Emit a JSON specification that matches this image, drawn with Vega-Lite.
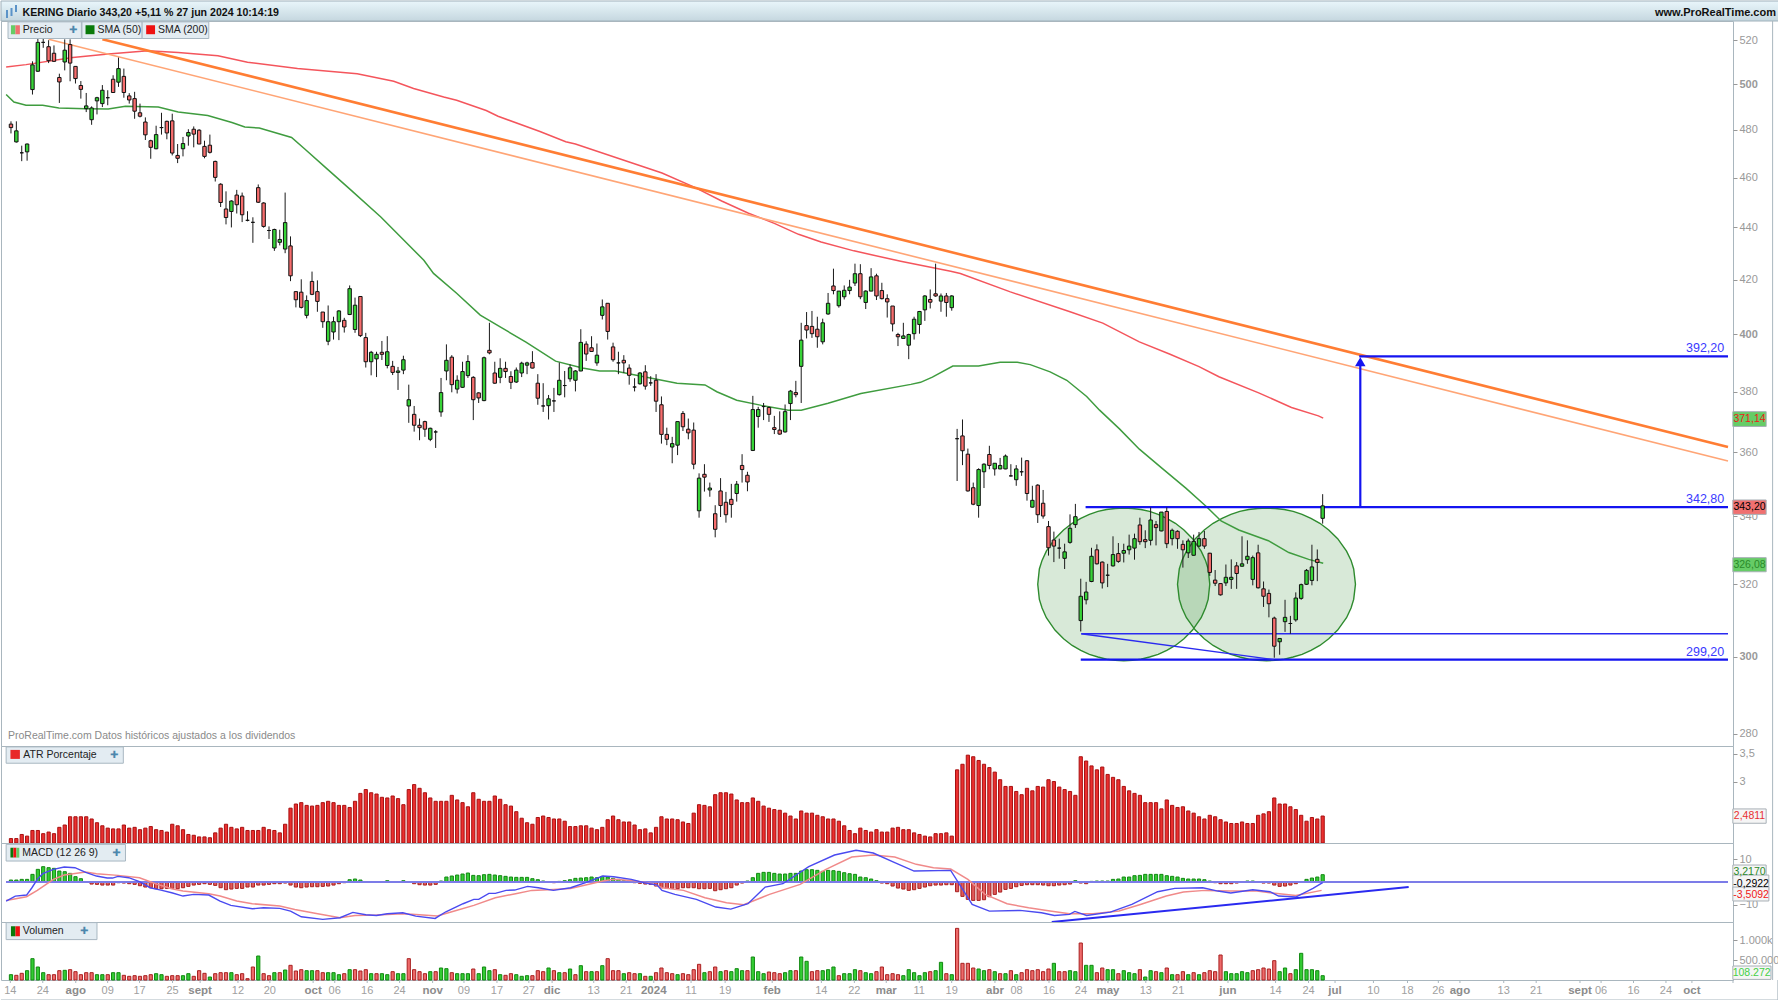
{"$schema":"https://vega.github.io/schema/vega-lite/v6.json","padding":0,"autosize":"pad","background":"white","spacing":0,"bounds":"flush",
"config":{"view":{"stroke":"#a9b6be","strokeWidth":1},"font":"Liberation Sans","text":{"font":"Liberation Sans"},"axis":{"labelFont":"Liberation Sans","labelFontSize":11,"labelColor":"#999999","tickColor":"#999999","tickSize":4,"labelPadding":2,"grid":false,"domain":false,"title":null}},
"datasets":{
"candles":[
{"i":0,"o":482.5,"c":481,"h":483.7,"l":478.5,"a":2.19,"v":133,"m":0.88},
{"i":1,"o":474.9,"c":479.6,"h":483.7,"l":474.6,"a":2.19,"v":117,"m":0.88},
{"i":2,"o":470.3,"c":470.3,"h":473.3,"l":466.8,"a":2.24,"v":167,"m":1.17},
{"i":3,"o":470.7,"c":474,"h":474.2,"l":467,"a":2.22,"v":233,"m":1.17},
{"i":4,"o":497.6,"c":508.7,"h":510.3,"l":495.4,"a":2.29,"v":533,"m":3.36},
{"i":5,"o":505.8,"c":519,"h":520.7,"l":505.5,"a":2.29,"v":325,"m":5.56},
{"i":6,"o":519,"c":519,"h":520.7,"l":516.5,"a":2.25,"v":183,"m":6.73},
{"i":7,"o":517,"c":510.6,"h":520,"l":509.5,"a":2.27,"v":133,"m":6.29},
{"i":8,"o":514,"c":510.3,"h":517.6,"l":510,"a":2.25,"v":133,"m":6},
{"i":9,"o":503,"c":501,"h":504.7,"l":491.7,"a":2.33,"v":233,"m":4.82},
{"i":10,"o":510,"c":515.4,"h":520.4,"l":506.2,"a":2.36,"v":242,"m":4.53},
{"i":11,"o":518,"c":509.5,"h":520.4,"l":501.3,"a":2.47,"v":258,"m":3.8},
{"i":12,"o":508,"c":502.5,"h":508,"l":500.3,"a":2.47,"v":208,"m":2.34},
{"i":13,"o":499.4,"c":497.7,"h":501.4,"l":493.6,"a":2.47,"v":133,"m":1.46},
{"i":14,"o":489.2,"c":490.4,"h":496.1,"l":487.7,"a":2.47,"v":183,"m":0.15},
{"i":15,"o":484.4,"c":489.5,"h":490.2,"l":482.2,"a":2.44,"v":183,"m":-0.88},
{"i":16,"o":492.6,"c":494,"h":494.4,"l":486.7,"a":2.39,"v":133,"m":-1.02},
{"i":17,"o":491.4,"c":497.3,"h":499.6,"l":489.9,"a":2.35,"v":133,"m":-1.32},
{"i":18,"o":494,"c":494,"h":497.3,"l":490.7,"a":2.32,"v":133,"m":-1.32},
{"i":19,"o":502.2,"c":496.3,"h":504,"l":496.2,"a":2.31,"v":183,"m":-1.32},
{"i":20,"o":500.9,"c":507,"h":512,"l":498.8,"a":2.31,"v":183,"m":-0.29},
{"i":21,"o":503.5,"c":496.3,"h":507,"l":494,"a":2.36,"v":117,"m":-0.44},
{"i":22,"o":494.8,"c":493,"h":496,"l":491.4,"a":2.32,"v":92,"m":-0.73},
{"i":23,"o":493.6,"c":488.1,"h":496.6,"l":484.8,"a":2.33,"v":108,"m":-1.02},
{"i":24,"o":487.4,"c":485.9,"h":491.4,"l":485.4,"a":2.3,"v":92,"m":-1.61},
{"i":25,"o":483.4,"c":477.9,"h":485.4,"l":475.7,"a":2.32,"v":108,"m":-2.19},
{"i":26,"o":475.4,"c":472.6,"h":475.8,"l":467.8,"a":2.34,"v":133,"m":-2.49},
{"i":27,"o":472,"c":478,"h":481.8,"l":471.8,"a":2.3,"v":158,"m":-2.92},
{"i":28,"o":481,"c":481,"h":487.4,"l":478,"a":2.29,"v":133,"m":-2.92},
{"i":29,"o":483.7,"c":478.7,"h":484,"l":476,"a":2.27,"v":92,"m":-2.78},
{"i":30,"o":483.9,"c":470.2,"h":487,"l":469.2,"a":2.37,"v":108,"m":-2.78},
{"i":31,"o":469.2,"c":468,"h":474,"l":466,"a":2.35,"v":108,"m":-2.92},
{"i":32,"o":472,"c":474.2,"h":477,"l":468.8,"a":2.3,"v":108,"m":-2.49},
{"i":33,"o":477.4,"c":478.9,"h":480.3,"l":473.3,"a":2.24,"v":158,"m":-1.9},
{"i":34,"o":480.3,"c":478.2,"h":481.5,"l":472.6,"a":2.23,"v":92,"m":-1.32},
{"i":35,"o":479.9,"c":474,"h":480.3,"l":474,"a":2.21,"v":233,"m":-1.02},
{"i":36,"o":473,"c":468.8,"h":475.4,"l":468,"a":2.21,"v":167,"m":-0.73},
{"i":37,"o":473.5,"c":470.5,"h":478,"l":470,"a":2.2,"v":75,"m":-1.02},
{"i":38,"o":466.7,"c":460.1,"h":467,"l":458.4,"a":2.26,"v":158,"m":-1.46},
{"i":39,"o":457.3,"c":449.9,"h":457.7,"l":448.1,"a":2.32,"v":183,"m":-2.49},
{"i":40,"o":447.3,"c":443.9,"h":454.4,"l":441.2,"a":2.37,"v":183,"m":-3.36},
{"i":41,"o":446.3,"c":450.5,"h":450.8,"l":440,"a":2.33,"v":183,"m":-3.07},
{"i":42,"o":452.9,"c":449,"h":455,"l":445.5,"a":2.31,"v":133,"m":-2.78},
{"i":43,"o":452.5,"c":445,"h":453.9,"l":442.1,"a":2.33,"v":158,"m":-2.78},
{"i":44,"o":442.8,"c":442.8,"h":446.4,"l":442.4,"a":2.29,"v":33,"m":-2.19},
{"i":45,"o":442,"c":442,"h":444,"l":434,"a":2.29,"v":325,"m":-2.19},
{"i":46,"o":455.9,"c":450,"h":457.2,"l":449.7,"a":2.29,"v":600,"m":-1.32},
{"i":47,"o":449.7,"c":440.4,"h":450,"l":439.9,"a":2.33,"v":158,"m":-1.32},
{"i":48,"o":438.8,"c":438.8,"h":440.4,"l":435.5,"a":2.3,"v":108,"m":-1.02},
{"i":49,"o":432,"c":439.2,"h":439.5,"l":430.9,"a":2.29,"v":183,"m":-0.73},
{"i":50,"o":434.2,"c":435.3,"h":439.1,"l":433,"a":2.26,"v":183,"m":-0.73},
{"i":51,"o":431.6,"c":441.9,"h":453.9,"l":430,"a":2.37,"v":250,"m":-0.44},
{"i":52,"o":432.8,"c":421.4,"h":436.5,"l":419.4,"a":2.59,"v":367,"m":-1.32},
{"i":53,"o":415.5,"c":412.5,"h":415.5,"l":409.7,"a":2.65,"v":225,"m":-2.19},
{"i":54,"o":415.3,"c":409.7,"h":420.1,"l":409.3,"a":2.67,"v":258,"m":-2.49},
{"i":55,"o":406.8,"c":412.2,"h":414.1,"l":405.7,"a":2.63,"v":233,"m":-2.19},
{"i":56,"o":419.3,"c":414.5,"h":423,"l":414.2,"a":2.62,"v":233,"m":-2.05},
{"i":57,"o":415.5,"c":411.9,"h":419.7,"l":408.1,"a":2.63,"v":233,"m":-2.05},
{"i":58,"o":408,"c":404.5,"h":408,"l":402.3,"a":2.67,"v":183,"m":-1.9},
{"i":59,"o":397.5,"c":404.5,"h":410.4,"l":396.1,"a":2.69,"v":183,"m":-1.75},
{"i":60,"o":400.8,"c":404.5,"h":406.3,"l":398.1,"a":2.67,"v":183,"m":-1.32},
{"i":61,"o":404.5,"c":408.4,"h":408.7,"l":397.9,"a":2.63,"v":133,"m":-0.73},
{"i":62,"o":405,"c":402.6,"h":405.9,"l":400.6,"a":2.63,"v":158,"m":-0.29},
{"i":63,"o":407.1,"c":416.6,"h":417.8,"l":406.9,"a":2.6,"v":258,"m":1.02},
{"i":64,"o":401.7,"c":410.5,"h":413.3,"l":400.5,"a":2.69,"v":258,"m":1.32},
{"i":65,"o":413.7,"c":399.5,"h":413.8,"l":399,"a":2.81,"v":225,"m":0.88},
{"i":66,"o":398.8,"c":390.3,"h":400.5,"l":388.3,"a":2.87,"v":258,"m":0.15},
{"i":67,"o":390.3,"c":393.6,"h":394.1,"l":385.6,"a":2.82,"v":158,"m":0},
{"i":68,"o":391.3,"c":392.9,"h":393.8,"l":385,"a":2.8,"v":158,"m":0},
{"i":69,"o":393.6,"c":392.9,"h":397.6,"l":390.9,"a":2.75,"v":158,"m":0},
{"i":70,"o":389,"c":393.8,"h":399.3,"l":388,"a":2.74,"v":133,"m":0.58},
{"i":71,"o":388.7,"c":386.6,"h":390.6,"l":385.7,"a":2.77,"v":208,"m":0},
{"i":72,"o":386.6,"c":387.1,"h":388.5,"l":380.6,"a":2.73,"v":158,"m":0},
{"i":73,"o":387.4,"c":391,"h":392.4,"l":386,"a":2.64,"v":158,"m":0.58},
{"i":74,"o":375.2,"c":377.3,"h":382.4,"l":369.6,"a":2.87,"v":533,"m":0},
{"i":75,"o":372.4,"c":368.8,"h":375.2,"l":366.7,"a":2.95,"v":258,"m":-0.73},
{"i":76,"o":368.8,"c":368,"h":371,"l":363.9,"a":2.89,"v":208,"m":-1.17},
{"i":77,"o":370,"c":367.5,"h":370.3,"l":365,"a":2.82,"v":158,"m":-1.32},
{"i":78,"o":364.2,"c":367.8,"h":368,"l":363.6,"a":2.74,"v":208,"m":-1.32},
{"i":79,"o":366.6,"c":366.6,"h":367.2,"l":361.4,"a":2.69,"v":208,"m":-1.02},
{"i":80,"o":373.2,"c":379.7,"h":384.7,"l":371.6,"a":2.69,"v":300,"m":0.44},
{"i":81,"o":387.1,"c":390.8,"h":396.4,"l":383.9,"a":2.69,"v":283,"m":2.19},
{"i":82,"o":391.9,"c":382.4,"h":392.6,"l":379.8,"a":2.78,"v":183,"m":2.63},
{"i":83,"o":380.9,"c":383.9,"h":385.6,"l":379.4,"a":2.71,"v":158,"m":3.07},
{"i":84,"o":381.5,"c":386.9,"h":390.3,"l":381.3,"a":2.67,"v":158,"m":3.51},
{"i":85,"o":385.5,"c":390.4,"h":392.6,"l":384.7,"a":2.61,"v":158,"m":3.95},
{"i":86,"o":384.9,"c":377.3,"h":385.3,"l":370.5,"a":2.82,"v":275,"m":2.92},
{"i":87,"o":379.6,"c":377.9,"h":379.8,"l":376.2,"a":2.72,"v":158,"m":2.78},
{"i":88,"o":377,"c":391.7,"h":392.1,"l":376.8,"a":2.69,"v":325,"m":3.22},
{"i":89,"o":394.3,"c":393.4,"h":404.1,"l":392.9,"a":2.69,"v":233,"m":3.36},
{"i":90,"o":386.4,"c":382.9,"h":390.3,"l":382.7,"a":2.77,"v":258,"m":3.07},
{"i":91,"o":384.9,"c":388,"h":391.5,"l":382.9,"a":2.72,"v":133,"m":2.78},
{"i":92,"o":388,"c":386.9,"h":390.3,"l":384.7,"a":2.64,"v":117,"m":2.49},
{"i":93,"o":385.2,"c":383.2,"h":387,"l":380.9,"a":2.62,"v":158,"m":2.19},
{"i":94,"o":383.3,"c":387.4,"h":388.3,"l":383,"a":2.54,"v":133,"m":2.05},
{"i":95,"o":386.4,"c":389.8,"h":390.3,"l":385,"a":2.45,"v":92,"m":2.05},
{"i":96,"o":389.1,"c":389.9,"h":390.3,"l":386,"a":2.39,"v":108,"m":2.05},
{"i":97,"o":390,"c":388.1,"h":394,"l":388,"a":2.37,"v":108,"m":1.46},
{"i":98,"o":382.9,"c":377.8,"h":386,"l":375.6,"a":2.46,"v":233,"m":1.02},
{"i":99,"o":375.2,"c":375.2,"h":382.9,"l":373.2,"a":2.48,"v":208,"m":0.44},
{"i":100,"o":375.3,"c":377.6,"h":378.9,"l":370.7,"a":2.46,"v":300,"m":0},
{"i":101,"o":376.9,"c":376.9,"h":381.3,"l":373.2,"a":2.44,"v":233,"m":-0.29},
{"i":102,"o":379,"c":383.9,"h":390,"l":378.7,"a":2.44,"v":183,"m":0.29},
{"i":103,"o":382.1,"c":382.1,"h":387.1,"l":378.1,"a":2.41,"v":183,"m":0.58},
{"i":104,"o":384.4,"c":388.2,"h":389.4,"l":383.4,"a":2.34,"v":275,"m":1.02},
{"i":105,"o":383.9,"c":387.1,"h":387.4,"l":380.1,"a":2.34,"v":133,"m":1.61},
{"i":106,"o":387.1,"c":397.1,"h":401.8,"l":387,"a":2.35,"v":358,"m":1.75},
{"i":107,"o":396.5,"c":393,"h":397.5,"l":390.6,"a":2.35,"v":208,"m":1.9},
{"i":108,"o":395.2,"c":393.9,"h":399.3,"l":393.8,"a":2.32,"v":208,"m":2.19},
{"i":109,"o":389.9,"c":392.6,"h":396.7,"l":388.9,"a":2.3,"v":208,"m":1.9},
{"i":110,"o":406.8,"c":409.9,"h":412.6,"l":405.3,"a":2.33,"v":358,"m":2.49},
{"i":111,"o":411.2,"c":401,"h":411.2,"l":398.1,"a":2.43,"v":533,"m":2.19},
{"i":112,"o":395.5,"c":391,"h":397,"l":390.3,"a":2.48,"v":233,"m":1.61},
{"i":113,"o":389.9,"c":389.9,"h":393.8,"l":386,"a":2.43,"v":233,"m":1.17},
{"i":114,"o":390.8,"c":389.9,"h":392.6,"l":386.4,"a":2.4,"v":158,"m":0.58},
{"i":115,"o":388.1,"c":385.6,"h":389.4,"l":382.4,"a":2.4,"v":183,"m":0.44},
{"i":116,"o":381.6,"c":381.6,"h":384.6,"l":380.1,"a":2.36,"v":158,"m":-0.29},
{"i":117,"o":382.7,"c":386.4,"h":386.7,"l":382.4,"a":2.3,"v":158,"m":-0.58},
{"i":118,"o":386.8,"c":381.9,"h":389.1,"l":380.7,"a":2.31,"v":92,"m":-0.88},
{"i":119,"o":383,"c":383,"h":385.3,"l":382,"a":2.26,"v":92,"m":-1.02},
{"i":120,"o":383.9,"c":376.8,"h":386,"l":373.2,"a":2.33,"v":183,"m":-1.75},
{"i":121,"o":375.6,"c":365.8,"h":378.4,"l":362.8,"a":2.47,"v":300,"m":-2.49},
{"i":122,"o":365.8,"c":364.2,"h":368,"l":362.3,"a":2.44,"v":183,"m":-2.78},
{"i":123,"o":361.7,"c":362.8,"h":365,"l":356.5,"a":2.44,"v":158,"m":-2.78},
{"i":124,"o":362.3,"c":370,"h":370,"l":359.1,"a":2.43,"v":133,"m":-2.92},
{"i":125,"o":372.7,"c":368.3,"h":373.5,"l":366.9,"a":2.4,"v":158,"m":-2.49},
{"i":126,"o":367.5,"c":366.3,"h":371,"l":364.2,"a":2.38,"v":133,"m":-2.49},
{"i":127,"o":367.2,"c":356.2,"h":369.7,"l":354.6,"a":2.52,"v":258,"m":-2.49},
{"i":128,"o":341.7,"c":351.8,"h":353.3,"l":339.6,"a":2.64,"v":392,"m":-2.92},
{"i":129,"o":353,"c":352.1,"h":356.2,"l":347.6,"a":2.63,"v":183,"m":-2.92},
{"i":130,"o":348.1,"c":348.7,"h":350.4,"l":346,"a":2.61,"v":208,"m":-2.78},
{"i":131,"o":340.8,"c":336.1,"h":343.4,"l":333.7,"a":2.79,"v":325,"m":-3.8},
{"i":132,"o":347.8,"c":343.3,"h":351.8,"l":339.8,"a":2.82,"v":208,"m":-3.36},
{"i":133,"o":344.3,"c":340.5,"h":347.5,"l":338.1,"a":2.82,"v":233,"m":-2.92},
{"i":134,"o":345.2,"c":343.6,"h":350,"l":339.6,"a":2.8,"v":208,"m":-2.49},
{"i":135,"o":347,"c":349.9,"h":350.9,"l":344.5,"a":2.71,"v":283,"m":-1.32},
{"i":136,"o":355.8,"c":354.5,"h":359.4,"l":350.4,"a":2.67,"v":233,"m":-0.44},
{"i":137,"o":352.7,"c":350.6,"h":353.8,"l":347.7,"a":2.67,"v":233,"m":0.44},
{"i":138,"o":360.6,"c":374,"h":378.6,"l":360.4,"a":2.74,"v":575,"m":1.9},
{"i":139,"o":371.7,"c":374,"h":374.9,"l":368,"a":2.69,"v":208,"m":3.8},
{"i":140,"o":375,"c":375,"h":376.2,"l":370.5,"a":2.62,"v":158,"m":4.24},
{"i":141,"o":374.7,"c":372.4,"h":375,"l":369.9,"a":2.59,"v":200,"m":4.24},
{"i":142,"o":368,"c":367.4,"h":371.9,"l":365.9,"a":2.57,"v":183,"m":3.8},
{"i":143,"o":367.2,"c":365.9,"h":373.4,"l":365.7,"a":2.56,"v":158,"m":3.51},
{"i":144,"o":366.6,"c":373.3,"h":375.7,"l":366.4,"a":2.52,"v":183,"m":3.51},
{"i":145,"o":376,"c":380.2,"h":380.6,"l":370.5,"a":2.48,"v":233,"m":3.8},
{"i":146,"o":379.7,"c":379,"h":383.7,"l":378.1,"a":2.44,"v":233,"m":3.8},
{"i":147,"o":388.7,"c":397.9,"h":404.1,"l":376.2,"a":2.55,"v":575,"m":4.82},
{"i":148,"o":403.1,"c":401.5,"h":408,"l":398.5,"a":2.52,"v":467,"m":5.41},
{"i":149,"o":402.8,"c":400.2,"h":408.4,"l":398.7,"a":2.52,"v":208,"m":5.41},
{"i":150,"o":401.8,"c":399.1,"h":406.3,"l":395.2,"a":2.49,"v":233,"m":5.12},
{"i":151,"o":397.3,"c":404.1,"h":405.6,"l":396.4,"a":2.47,"v":233,"m":4.68},
{"i":152,"o":407.3,"c":411.2,"h":415,"l":407,"a":2.44,"v":258,"m":5.12},
{"i":153,"o":417.6,"c":415.9,"h":424.1,"l":414.5,"a":2.44,"v":325,"m":4.97},
{"i":154,"o":410.3,"c":415.7,"h":415.7,"l":409.6,"a":2.41,"v":108,"m":4.68},
{"i":155,"o":413.6,"c":416,"h":417.8,"l":412.6,"a":2.35,"v":158,"m":4.09},
{"i":156,"o":415.9,"c":417.2,"h":419.9,"l":414.5,"a":2.29,"v":158,"m":3.65},
{"i":157,"o":418.7,"c":422.2,"h":426,"l":417.6,"a":2.25,"v":258,"m":3.36},
{"i":158,"o":422.2,"c":413.6,"h":425.8,"l":412.7,"a":2.32,"v":233,"m":2.19},
{"i":159,"o":411.5,"c":415.7,"h":416,"l":409.1,"a":2.29,"v":183,"m":1.9},
{"i":160,"o":415.7,"c":421,"h":424.3,"l":415.7,"a":2.27,"v":158,"m":1.32},
{"i":161,"o":421.4,"c":413.9,"h":422.2,"l":412.4,"a":2.3,"v":208,"m":0.58},
{"i":162,"o":415.9,"c":412.9,"h":418.8,"l":412.6,"a":2.27,"v":325,"m":-0.44},
{"i":163,"o":412.9,"c":411.7,"h":414.5,"l":406,"a":2.27,"v":133,"m":-0.73},
{"i":164,"o":410.2,"c":403.7,"h":410.2,"l":401,"a":2.32,"v":158,"m":-1.75},
{"i":165,"o":399.9,"c":399.1,"h":400.5,"l":395.8,"a":2.33,"v":133,"m":-2.63},
{"i":166,"o":398.5,"c":399.4,"h":404.1,"l":398.4,"a":2.3,"v":108,"m":-3.07},
{"i":167,"o":396.1,"c":399.9,"h":400.2,"l":391.2,"a":2.3,"v":258,"m":-3.65},
{"i":168,"o":400.2,"c":405.4,"h":406.3,"l":398.1,"a":2.26,"v":183,"m":-3.36},
{"i":169,"o":403.5,"c":408.2,"h":408.4,"l":400.2,"a":2.24,"v":108,"m":-2.78},
{"i":170,"o":408.8,"c":413.9,"h":414.2,"l":404.8,"a":2.22,"v":183,"m":-2.19},
{"i":171,"o":412.6,"c":411.6,"h":416.3,"l":409.3,"a":2.21,"v":208,"m":-1.61},
{"i":172,"o":414.7,"c":413.9,"h":426,"l":413.6,"a":2.25,"v":233,"m":-1.32},
{"i":173,"o":412,"c":413.9,"h":414.8,"l":408.1,"a":2.25,"v":442,"m":-1.32},
{"i":174,"o":413.9,"c":411.5,"h":415,"l":406.3,"a":2.26,"v":158,"m":-1.17},
{"i":175,"o":409.6,"c":413.9,"h":414.2,"l":408.5,"a":2.22,"v":133,"m":-1.17},
{"i":176,"o":364.4,"c":364.4,"h":367.6,"l":350.9,"a":3.2,"v":1291,"m":-4.24},
{"i":177,"o":365.3,"c":360.5,"h":370.7,"l":355.9,"a":3.3,"v":417,"m":-6.29},
{"i":178,"o":359.4,"c":347.8,"h":361.2,"l":347.6,"a":3.47,"v":417,"m":-7.6},
{"i":179,"o":348.8,"c":343.7,"h":350.4,"l":343.4,"a":3.44,"v":300,"m":-8.04},
{"i":180,"o":343.3,"c":354.5,"h":354.9,"l":339.6,"a":3.37,"v":275,"m":-8.04},
{"i":181,"o":353.8,"c":356.2,"h":356.5,"l":348.7,"a":3.3,"v":233,"m":-7.75},
{"i":182,"o":359.3,"c":355.8,"h":362.1,"l":354.6,"a":3.24,"v":258,"m":-6.43},
{"i":183,"o":354.7,"c":356.5,"h":356.5,"l":352.6,"a":3.16,"v":208,"m":-5.41},
{"i":184,"o":354.7,"c":355.8,"h":358.2,"l":354.6,"a":3.03,"v":158,"m":-4.39},
{"i":185,"o":354.7,"c":358.8,"h":359.3,"l":354.6,"a":2.92,"v":158,"m":-3.22},
{"i":186,"o":352.5,"c":352.5,"h":356.2,"l":352.3,"a":2.92,"v":233,"m":-2.78},
{"i":187,"o":351.3,"c":354.7,"h":355.9,"l":349.4,"a":2.84,"v":133,"m":-2.05},
{"i":188,"o":353.8,"c":353.8,"h":358.3,"l":352.5,"a":2.79,"v":183,"m":-1.46},
{"i":189,"o":357.3,"c":347,"h":357.5,"l":344.8,"a":2.89,"v":258,"m":-1.17},
{"i":190,"o":342.8,"c":344.9,"h":349.4,"l":342.7,"a":2.85,"v":233,"m":-1.17},
{"i":191,"o":349.6,"c":340.5,"h":349.9,"l":338,"a":2.92,"v":258,"m":-1.17},
{"i":192,"o":344,"c":340.1,"h":348.1,"l":339.3,"a":2.91,"v":208,"m":-1.32},
{"i":193,"o":336.9,"c":330.6,"h":338.6,"l":328.3,"a":3.03,"v":275,"m":-1.61},
{"i":194,"o":332.9,"c":331.1,"h":335.4,"l":326.4,"a":3,"v":417,"m":-1.61},
{"i":195,"o":330.5,"c":330.5,"h":333.3,"l":327.4,"a":2.91,"v":208,"m":-1.32},
{"i":196,"o":327.5,"c":329.4,"h":331.8,"l":324.4,"a":2.87,"v":208,"m":-1.17},
{"i":197,"o":332.2,"c":336.4,"h":340.6,"l":331.8,"a":2.84,"v":233,"m":-0.88},
{"i":198,"o":337.5,"c":339.9,"h":343.8,"l":336.5,"a":2.78,"v":208,"m":0.58},
{"i":199,"o":309.8,"c":316.6,"h":321.6,"l":306.8,"a":3.44,"v":925,"m":-0.44},
{"i":200,"o":315.6,"c":317.8,"h":320.7,"l":314.3,"a":3.36,"v":367,"m":-0.73},
{"i":201,"o":320.8,"c":328.1,"h":330.6,"l":320.6,"a":3.27,"v":367,"m":0.29},
{"i":202,"o":330,"c":325.9,"h":331.6,"l":325.7,"a":3.2,"v":183,"m":0.44},
{"i":203,"o":326.4,"c":320.4,"h":326.6,"l":318.8,"a":3.25,"v":300,"m":0.44},
{"i":204,"o":322.6,"c":322.6,"h":325.9,"l":319.2,"a":3.12,"v":258,"m":0.44},
{"i":205,"o":325.3,"c":328.6,"h":334,"l":325.1,"a":3.07,"v":258,"m":1.17},
{"i":206,"o":328.9,"c":326.6,"h":332,"l":326.2,"a":3.03,"v":158,"m":1.32},
{"i":207,"o":329,"c":329.8,"h":331.8,"l":326.3,"a":2.92,"v":233,"m":2.19},
{"i":208,"o":330,"c":331.1,"h":334.5,"l":328.6,"a":2.85,"v":183,"m":2.19},
{"i":209,"o":330.5,"c":333.3,"h":334.8,"l":327.1,"a":2.81,"v":158,"m":2.78},
{"i":210,"o":337.4,"c":332.4,"h":339.6,"l":331.5,"a":2.78,"v":258,"m":2.92},
{"i":211,"o":333,"c":332.4,"h":335.8,"l":330.5,"a":2.67,"v":75,"m":3.36},
{"i":212,"o":332.8,"c":338.9,"h":342.7,"l":331.3,"a":2.67,"v":233,"m":3.36},
{"i":213,"o":337.5,"c":336.6,"h":338.6,"l":331.3,"a":2.67,"v":208,"m":3.36},
{"i":214,"o":335.6,"c":341.3,"h":341.3,"l":335.5,"a":2.58,"v":183,"m":3.36},
{"i":215,"o":341.5,"c":331.8,"h":342.7,"l":330.5,"a":2.71,"v":300,"m":2.78},
{"i":216,"o":333.3,"c":335.8,"h":336.3,"l":331.3,"a":2.63,"v":133,"m":2.49},
{"i":217,"o":335.5,"c":333.3,"h":335.8,"l":330.3,"a":2.6,"v":133,"m":2.19},
{"i":218,"o":331.6,"c":330,"h":332.8,"l":324.8,"a":2.61,"v":208,"m":1.61},
{"i":219,"o":329.1,"c":332.6,"h":333.3,"l":327.6,"a":2.55,"v":133,"m":1.32},
{"i":220,"o":328.4,"c":332.5,"h":334.5,"l":328.3,"a":2.52,"v":183,"m":1.32},
{"i":221,"o":331.1,"c":333.3,"h":335.3,"l":330.8,"a":2.47,"v":133,"m":1.32},
{"i":222,"o":333.3,"c":331.1,"h":335.6,"l":330.3,"a":2.44,"v":183,"m":1.02},
{"i":223,"o":329,"c":323.4,"h":329.1,"l":322.4,"a":2.49,"v":233,"m":0.44},
{"i":224,"o":321.2,"c":320.3,"h":324.1,"l":319.5,"a":2.47,"v":208,"m":-0.29},
{"i":225,"o":320.2,"c":317,"h":320.2,"l":316.8,"a":2.43,"v":625,"m":-0.73},
{"i":226,"o":320.4,"c":322,"h":325.7,"l":319.5,"a":2.4,"v":208,"m":-0.73},
{"i":227,"o":321.4,"c":322,"h":327.2,"l":318.7,"a":2.38,"v":158,"m":-0.73},
{"i":228,"o":325.3,"c":323.1,"h":326.4,"l":318.7,"a":2.38,"v":158,"m":-0.44},
{"i":229,"o":325.2,"c":325.9,"h":334,"l":325.1,"a":2.4,"v":208,"m":0},
{"i":230,"o":327.1,"c":328.1,"h":332.8,"l":325.9,"a":2.38,"v":183,"m":0.44},
{"i":231,"o":321.4,"c":327.7,"h":328.3,"l":319.7,"a":2.38,"v":233,"m":0.44},
{"i":232,"o":329.1,"c":319,"h":331.5,"l":318.8,"a":2.49,"v":258,"m":0},
{"i":233,"o":318.7,"c":316.6,"h":320.8,"l":313.6,"a":2.51,"v":300,"m":-0.44},
{"i":234,"o":317.4,"c":314.5,"h":318.5,"l":310.7,"a":2.54,"v":275,"m":-0.44},
{"i":235,"o":310.5,"c":302.8,"h":310.9,"l":299.7,"a":2.74,"v":483,"m":-1.32},
{"i":236,"o":304,"c":304.9,"h":304.9,"l":300.5,"a":2.65,"v":208,"m":-1.9},
{"i":237,"o":309.5,"c":310.7,"h":315.6,"l":306.7,"a":2.65,"v":300,"m":-1.75},
{"i":238,"o":309,"c":309,"h":311.1,"l":306.2,"a":2.61,"v":158,"m":-1.32},
{"i":239,"o":310,"c":316.1,"h":317.7,"l":309.5,"a":2.57,"v":258,"m":-0.73},
{"i":240,"o":316,"c":319.9,"h":320.2,"l":315.6,"a":2.49,"v":667,"m":0},
{"i":241,"o":320,"c":324,"h":324.4,"l":319.8,"a":2.41,"v":258,"m":1.17},
{"i":242,"o":321.1,"c":325,"h":331.5,"l":319.7,"a":2.46,"v":258,"m":1.75},
{"i":243,"o":327.2,"c":326.3,"h":330.1,"l":320.9,"a":2.44,"v":233,"m":2.19},
{"i":244,"o":339.4,"c":343.2,"h":346.8,"l":337.8,"a":2.48,"v":108,"m":3.22}
],
"sma50":[[-0.9,495.4],[0.55,492.1],[2.8,490.7],[5.9,490.7],[8.9,489.5],[13.9,489.2],[18.1,489],[21.3,490.2],[27.4,489.9],[31.1,487.7],[36.6,486.2],[41.1,483.2],[43.5,481.3],[46.2,480.8],[52.2,476.8],[54.6,472],[58.8,463.6],[63.3,454.8],[68.8,444.1],[73.1,435],[76.8,427.3],[78.6,422.3],[82.9,414.9],[87.3,406.9],[91,402.6],[95.8,397.2],[101.3,390.5],[106.3,388.1],[109.5,387.1],[112.4,387.1],[116.1,385.7],[123.9,382.9],[129.1,382.3],[131.3,380],[135,377.1],[139.6,375.4],[144.6,373.8],[147,373.8],[152,376.1],[158.1,379.4],[167.4,382.5],[169.2,383.2],[171.4,385],[175.2,388.8],[180,388.8],[184,390.1],[187.2,390.1],[189.6,389.3],[193.3,386.8],[196.4,383.9],[200.1,378.4],[202.5,373.8],[206.2,367.6],[209.9,361],[214.2,354.8],[218.6,348.6],[222.3,343.1],[225.1,338.6],[228.4,335.9],[233.9,332.7],[237.7,329.2],[241.4,327.2],[244.1,326.08]],
"sma200":[[-0.9,507.7],[2.8,508.8],[11.5,512.1],[18.1,513.6],[25.5,515.1],[31.1,514.3],[38.5,512.8],[44,509.9],[53.3,507],[64.4,504.7],[71.2,501.3],[74.9,498.1],[80.5,494.3],[82.9,492.9],[88.4,488.4],[90.6,485.9],[98.4,479.3],[103.2,475],[105,474],[121.1,461.9],[127.2,456],[132.2,450.5],[137.2,445.6],[142,441.6],[146.5,437.3],[150.7,434.3],[156.8,430.9],[165.5,426.9],[174.8,423.1],[176.6,422.3],[185.9,415.4],[197,408.1],[203.1,404],[209.9,397.3],[215.5,393],[221,388.6],[224.7,385.1],[232.1,379.6],[238.2,374.7],[243.2,371.9],[244.1,371.14]],
"macd":[[-0.9,-8.33],[0.8,-6.14],[2.9,-5.7],[3.9,-2.49],[4.9,1.17],[5.9,3.65],[7.9,5.56],[9.9,6.58],[11.9,6.29],[13.9,4.24],[15.9,2.63],[17.9,1.75],[18.9,1.75],[19.9,2.49],[21.9,1.9],[23.9,0.15],[25.9,-2.49],[27.9,-3.51],[29.9,-4.68],[32,-6.14],[34,-5.41],[36.8,-5.7],[38.9,-8.33],[40.9,-10.23],[44.9,-11.7],[47,-11.26],[50,-11.55],[52,-12.72],[54,-15.2],[58,-16.37],[61.2,-15.64],[63.6,-13.3],[66,-14.33],[68,-14.62],[70,-13.89],[72.9,-13.45],[75.3,-14.91],[78.9,-15.94],[80.9,-13.01],[84.1,-9.5],[86.1,-7.6],[87,-7.6],[88.9,-4.97],[90.1,-4.97],[92.1,-3.65],[93.7,-3.51],[96.1,-1.9],[98.1,-2.49],[100.9,-3.65],[104.1,-2.49],[106.9,-0.29],[110.1,2.63],[112.1,2.34],[115.4,1.17],[117.8,-0.29],[120.2,-1.32],[121.1,-3.65],[123.5,-5.41],[127.5,-7.6],[131.1,-10.96],[133.9,-11.84],[137.1,-9.5],[140.3,-2.19],[143.6,-0.73],[148.4,6.73],[153.2,11.84],[157.2,13.89],[160.4,12.72],[164.4,8.48],[168,4.82],[174.8,5.12],[178.8,-9.8],[182,-12.72],[187.7,-12.43],[191.7,-13.45],[194.1,-14.62],[196.9,-14.18],[197.9,-12.87],[200.1,-14.62],[204.5,-13.16],[208.5,-9.8],[213.3,-4.24],[216.5,-2.78],[221.7,-2.49],[224.5,-3.95],[226.9,-4.82],[231,-3.36],[234.2,-4.24],[235.8,-6.14],[239,-6.58],[242.2,-2.78],[244,-0.29]],
"signal":[[-0.9,-8.04],[2.9,-6.43],[4.9,-3.65],[7.9,1.17],[9.9,3.07],[13.9,4.39],[15.9,3.65],[19.9,2.92],[23.9,1.9],[26.9,-0.73],[29.9,-2.92],[32,-3.95],[36.8,-5.12],[38.9,-6.14],[42,-8.33],[44.9,-9.5],[50,-10.53],[52.8,-11.99],[56.8,-13.74],[61.2,-15.64],[64,-14.62],[68,-14.47],[72.9,-13.89],[75.3,-14.18],[79.3,-14.91],[82.5,-12.72],[86.1,-10.23],[90.1,-6.87],[94.1,-4.97],[96.9,-3.65],[100.9,-3.22],[104.1,-2.78],[106.9,-1.32],[110.1,0.44],[112.1,1.17],[115.4,0.73],[119.4,-0.73],[121.1,-2.49],[125.1,-3.65],[129.1,-6.87],[133.1,-9.06],[136.3,-9.94],[141.1,-5.41],[146.8,-1.02],[151.6,5.56],[156.4,10.96],[160.4,11.84],[164.4,10.96],[168.4,7.75],[171.6,6.29],[174.8,5.7],[178,1.17],[181.2,-5.41],[185.3,-9.5],[189.3,-11.26],[193.3,-12.72],[196.9,-13.89],[201.3,-13.89],[206.1,-12.72],[210.1,-9.8],[214.9,-6.14],[218.1,-4.39],[222.1,-3.65],[226.9,-3.95],[231.8,-3.95],[234.2,-4.68],[239,-5.85],[243.8,-3.65]],
"ellipses":[
{"e":"a","i":191,"u":320,"d":320},{"e":"a","i":191.3,"u":324.4,"d":315.7},{"e":"a","i":191.8,"u":326.9,"d":313.3},{"e":"a","i":192.6,"u":329.6,"d":310.6},{"e":"a","i":194.2,"u":333.3,"d":307.2},{"e":"a","i":195.8,"u":335.9,"d":304.8},{"e":"a","i":197.4,"u":337.9,"d":303},{"e":"a","i":199,"u":339.4,"d":301.7},{"e":"a","i":200.6,"u":340.6,"d":300.6},{"e":"a","i":202.2,"u":341.5,"d":299.9},{"e":"a","i":203.8,"u":342.1,"d":299.3},{"e":"a","i":205.4,"u":342.4,"d":299},{"e":"a","i":207,"u":342.5,"d":298.9},{"e":"a","i":208.6,"u":342.4,"d":299},{"e":"a","i":210.2,"u":342.1,"d":299.3},{"e":"a","i":211.8,"u":341.5,"d":299.9},{"e":"a","i":213.4,"u":340.6,"d":300.6},{"e":"a","i":215,"u":339.4,"d":301.7},{"e":"a","i":216.6,"u":337.9,"d":303},{"e":"a","i":218.2,"u":335.9,"d":304.8},{"e":"a","i":219.8,"u":333.3,"d":307.2},{"e":"a","i":221.4,"u":329.6,"d":310.6},{"e":"a","i":222.2,"u":326.9,"d":313.3},{"e":"a","i":222.7,"u":324.4,"d":315.7},{"e":"a","i":223,"u":320,"d":320},
{"e":"b","i":217,"u":320,"d":320},{"e":"b","i":217.33,"u":324.4,"d":315.7},{"e":"b","i":217.83,"u":326.9,"d":313.3},{"e":"b","i":218.66,"u":329.6,"d":310.6},{"e":"b","i":220.31,"u":333.3,"d":307.2},{"e":"b","i":221.97,"u":335.9,"d":304.8},{"e":"b","i":223.62,"u":337.9,"d":303},{"e":"b","i":225.28,"u":339.4,"d":301.7},{"e":"b","i":226.93,"u":340.6,"d":300.6},{"e":"b","i":228.59,"u":341.5,"d":299.9},{"e":"b","i":230.24,"u":342.1,"d":299.3},{"e":"b","i":231.9,"u":342.4,"d":299},{"e":"b","i":233.55,"u":342.5,"d":298.9},{"e":"b","i":235.2,"u":342.4,"d":299},{"e":"b","i":236.86,"u":342.1,"d":299.3},{"e":"b","i":238.51,"u":341.5,"d":299.9},{"e":"b","i":240.17,"u":340.6,"d":300.6},{"e":"b","i":241.82,"u":339.4,"d":301.7},{"e":"b","i":243.48,"u":337.9,"d":303},{"e":"b","i":245.13,"u":335.9,"d":304.8},{"e":"b","i":246.79,"u":333.3,"d":307.2},{"e":"b","i":248.44,"u":329.6,"d":310.6},{"e":"b","i":249.28,"u":326.9,"d":313.3},{"e":"b","i":249.77,"u":324.4,"d":315.7},{"e":"b","i":250.1,"u":320,"d":320}],
"dates":[{"i":0.8,"t":"14"},{"i":6.8,"t":"24"},{"i":12.9,"t":"ago","b":1},{"i":18.8,"t":"09"},{"i":24.7,"t":"17"},{"i":30.8,"t":"25"},{"i":35.9,"t":"sept","b":1},{"i":42.9,"t":"12"},{"i":48.8,"t":"20"},{"i":56.8,"t":"oct","b":1},{"i":60.8,"t":"06"},{"i":66.8,"t":"16"},{"i":72.8,"t":"24"},{"i":78.9,"t":"nov","b":1},{"i":84.7,"t":"09"},{"i":90.8,"t":"17"},{"i":96.7,"t":"27"},{"i":101,"t":"dic","b":1},{"i":108.7,"t":"13"},{"i":114.7,"t":"21"},{"i":119.8,"t":"2024","b":1},{"i":126.7,"t":"11"},{"i":133,"t":"19"},{"i":141.7,"t":"feb","b":1},{"i":150.8,"t":"14"},{"i":156.9,"t":"22"},{"i":162.8,"t":"mar","b":1},{"i":168.9,"t":"11"},{"i":174.9,"t":"19"},{"i":182.9,"t":"abr","b":1},{"i":186.9,"t":"08"},{"i":192.9,"t":"16"},{"i":198.8,"t":"24"},{"i":203.8,"t":"may","b":1},{"i":210.8,"t":"13"},{"i":216.8,"t":"21"},{"i":226,"t":"jun","b":1},{"i":234.8,"t":"14"},{"i":240.9,"t":"24"},{"i":245.8,"t":"jul","b":1},{"i":252.9,"t":"10"},{"i":259.2,"t":"18"},{"i":264.9,"t":"26"},{"i":268.9,"t":"ago","b":1},{"i":277,"t":"13"},{"i":283,"t":"21"},{"i":291.1,"t":"sept","b":1},{"i":295,"t":"06"},{"i":301,"t":"16"},{"i":307,"t":"24"},{"i":311.8,"t":"oct","b":1}]
},
"vconcat":[
{"width":1778,"height":20,"view":{"stroke":null},
"encoding":{"x":{"field":"x","type":"quantitative","scale":{"domain":[0,1778],"nice":false,"zero":false},"axis":null},"y":{"field":"y","type":"quantitative","scale":{"domain":[20,0],"nice":false,"zero":false},"axis":null}},
"layer":[
{"data":{"values":[{"x":0,"x2":1778,"y":0,"y2":20}]},"mark":{"type":"rect","stroke":"#9fb0ba","strokeWidth":1,"fill":{"x1":0,"y1":0,"x2":0,"y2":1,"gradient":"linear","stops":[{"offset":0,"color":"#e9f6fb"},{"offset":1,"color":"#c5d7df"}]}},"encoding":{"x2":{"field":"x2"},"y2":{"field":"y2"}}},
{"data":{"values":[{"x":5,"x2":7,"y":9,"y2":17},{"x":9.5,"x2":11.5,"y":7,"y2":15},{"x":14,"x2":16,"y":4,"y2":11}]},"mark":{"type":"rect","fill":"#5b93c8"},"encoding":{"x2":{"field":"x2"},"y2":{"field":"y2"}}},
{"data":{"values":[{"x":21.5,"y":12,"t":"KERING Diario 343,20 +5,11 % 27 jun 2024 10:14:19"}]},"mark":{"type":"text","align":"left","baseline":"middle","fontSize":10.6,"fontWeight":"bold","color":"#111111","font":"Liberation Sans"},"encoding":{"text":{"field":"t"}}},
{"data":{"values":[{"x":1775,"y":12,"t":"www.ProRealTime.com"}]},"mark":{"type":"text","align":"right","baseline":"middle","fontSize":11,"fontWeight":"bold","color":"#111111","font":"Liberation Sans"},"encoding":{"text":{"field":"t"}}}
]},
{"width":1732,"height":725,
"encoding":{"x":{"field":"i","type":"quantitative","scale":{"domain":[-0.925,319.4],"nice":false,"zero":false},"axis":null}},
"layer":[
{"data":{"name":"ellipses"},"mark":{"type":"area","fill":"#2e8b2e","fillOpacity":0.19,"stroke":"#2e8b2e","strokeWidth":1.4,"strokeOpacity":1},"encoding":{"detail":{"field":"e"},"y":{"field":"u","type":"quantitative","scale":{"type":"log","domain":[277,529],"nice":false,"zero":false},"axis":{"orient":"right","values":[280,300,320,340,360,380,400,420,440,460,480,500,520],"format":"d","labelFontWeight":{"condition":{"test":"datum.value%100==0","value":"bold"},"value":"normal"}}},"y2":{"field":"d"}}},
{"data":{"name":"sma200"},"transform":[{"calculate":"datum[0]","as":"i"},{"calculate":"datum[1]","as":"p"}],"mark":{"type":"line","color":"#f4555c","strokeWidth":1.5},"encoding":{"y":{"field":"p","type":"quantitative"}}},
{"data":{"name":"sma50"},"transform":[{"calculate":"datum[0]","as":"i"},{"calculate":"datum[1]","as":"p"}],"mark":{"type":"line","color":"#3f9c3f","strokeWidth":1.5},"encoding":{"y":{"field":"p","type":"quantitative"}}},
{"data":{"values":[{"g":"a","i":17,"p":520.5},{"g":"a","i":319.4,"p":361.7}]},"mark":{"type":"line","color":"#ff7d33","strokeWidth":2.6},"encoding":{"detail":{"field":"g"},"y":{"field":"p","type":"quantitative"}}},
{"data":{"values":[{"g":"b","i":7,"p":520.5},{"g":"b","i":319.4,"p":357.2}]},"mark":{"type":"line","color":"#ffa576","strokeWidth":1.6},"encoding":{"detail":{"field":"g"},"y":{"field":"p","type":"quantitative"}}},
{"data":{"values":[{"g":"t","i":250.8,"p":392.2},{"g":"t","i":319.4,"p":392.2},{"g":"m","i":199.9,"p":342.8},{"g":"m","i":319.4,"p":342.8},{"g":"b","i":199,"p":299.2},{"g":"b","i":319.4,"p":299.2},{"g":"r","i":251,"p":342.8},{"g":"r","i":251,"p":389}]},"mark":{"type":"line","color":"#1414f0","strokeWidth":2.2},"encoding":{"detail":{"field":"g"},"y":{"field":"p","type":"quantitative"}}},
{"data":{"values":[{"g":"s","i":199.1,"p":306.2},{"g":"s","i":319.4,"p":306.2},{"g":"d","i":199.1,"p":306.2},{"g":"d","i":234.9,"p":299.2}]},"mark":{"type":"line","color":"#2a2af0","strokeWidth":1.4},"encoding":{"detail":{"field":"g"},"y":{"field":"p","type":"quantitative"}}},
{"data":{"values":[{"i":251,"p":390.3}]},"mark":{"type":"point","shape":"triangle-up","size":110,"filled":true,"color":"#1414f0","opacity":1},"encoding":{"y":{"field":"p","type":"quantitative"}}},
{"data":{"name":"candles"},"mark":{"type":"rule","color":"#1a1a1a","strokeWidth":1},"encoding":{"y":{"field":"l","type":"quantitative"},"y2":{"field":"h"}}},
{"data":{"name":"candles"},"mark":{"type":"bar","orient":"vertical","size":3.4,"stroke":"#111111","strokeWidth":1},"encoding":{"y":{"field":"o","type":"quantitative"},"y2":{"field":"c"},"fill":{"condition":{"test":"datum.c>=datum.o","value":"#37d337"},"value":"#f76d6d"}}},
{"data":{"values":[{"i":-0.55,"j":13.1,"p":528.6,"q":520.8},{"i":13.2,"j":24.4,"p":528.6,"q":520.8},{"i":24.4,"j":36.8,"p":528.6,"q":520.8}]},"mark":{"type":"rect","fill":"#e3ecf2","stroke":"#a8b7c1","strokeWidth":1},"encoding":{"y":{"field":"p","type":"quantitative"},"y2":{"field":"q"},"x2":{"field":"j"}}},
{"data":{"values":[{"i":0,"j":0.83,"p":527,"q":522.8,"k":"up"},{"i":0.83,"j":1.66,"p":527,"q":522.8,"k":"down"},{"i":13.87,"j":15.54,"p":527,"q":522.8,"k":"s50"},{"i":25.15,"j":26.8,"p":527,"q":522.8,"k":"s200"}]},"mark":{"type":"rect"},"encoding":{"y":{"field":"p","type":"quantitative"},"y2":{"field":"q"},"x2":{"field":"j"},"fill":{"field":"k","legend":null,"scale":{"domain":["up","down","s50","s200"],"range":["#66cc66","#f07070","#0a7a0a","#ee1111"]}}}},
{"data":{"values":[{"i":2.2,"p":524.7,"t":"Precio"},{"i":16.09,"p":524.7,"t":"SMA (50)"},{"i":27.37,"p":524.7,"t":"SMA (200)"}]},"mark":{"type":"text","align":"left","baseline":"middle","fontSize":10.5,"color":"#222222"},"encoding":{"y":{"field":"p","type":"quantitative"},"text":{"field":"t"}}},
{"data":{"values":[{"i":11.56,"p":524.7,"t":"✚"}]},"mark":{"type":"text","align":"center","baseline":"middle","fontSize":10,"color":"#4d87ad","font":"DejaVu Sans"},"encoding":{"y":{"field":"p","type":"quantitative"},"text":{"field":"t"}}},
{"data":{"values":[{"i":-0.55,"p":279.6,"t":"ProRealTime.com Datos históricos ajustados a los dividendos"}]},"mark":{"type":"text","align":"left","baseline":"middle","fontSize":10.5,"color":"#8a8a8a"},"encoding":{"y":{"field":"p","type":"quantitative"},"text":{"field":"t"}}},
{"data":{"values":[{"i":318.7,"p":392.2,"t":"392,20"},{"i":318.7,"p":342.8,"t":"342,80"},{"i":318.7,"p":299.2,"t":"299,20"}]},"mark":{"type":"text","align":"right","baseline":"bottom","dy":-1,"fontSize":12.5,"color":"#3a3aff"},"encoding":{"y":{"field":"p","type":"quantitative"},"text":{"field":"t"}}},
{"data":{"values":[{"i":320.3,"j":326.5,"p":373.3,"q":368.4,"k":"w"},{"i":320.3,"j":326.5,"p":345,"q":340.6,"k":"y"},{"i":320.3,"j":326.5,"p":327.7,"q":323.6,"k":"w"}]},"mark":{"type":"rect","stroke":"#a8b0b6","strokeWidth":1},"encoding":{"y":{"field":"p","type":"quantitative"},"y2":{"field":"q"},"x2":{"field":"j"},"fill":{"field":"k","legend":null,"scale":{"domain":["w","y"],"range":["#f5f5f5","#f5c800"]}}}},
{"data":{"values":[{"i":323.4,"p":370.9,"t":"371,14","k":"r"},{"i":323.4,"p":342.8,"t":"343,20","k":"b"},{"i":323.4,"p":325.6,"t":"326,08","k":"g"}]},"mark":{"type":"text","align":"center","baseline":"middle","fontSize":10.5},"encoding":{"y":{"field":"p","type":"quantitative"},"text":{"field":"t"},"color":{"field":"k","legend":null,"scale":{"domain":["r","b","g"],"range":["#f01818","#000000","#2a8a2a"]}}}},
{"data":{"values":[{"i":327.7}]},"mark":{"type":"rule","color":"#a9b6be","strokeWidth":1},"encoding":{}}
]},
{"width":1732,"height":97,
"encoding":{"x":{"field":"i","type":"quantitative","scale":{"domain":[-0.925,319.4],"nice":false,"zero":false},"axis":null}},
"layer":[
{"data":{"name":"candles"},"mark":{"type":"bar","orient":"vertical","size":3.2,"fill":"#ea2f2f","stroke":"#a81010","strokeWidth":1},"encoding":{"y":{"field":"a","type":"quantitative","scale":{"type":"log","domain":[2.137,3.65],"nice":false,"zero":false},"axis":{"orient":"right","values":[3,3.5],"labelExpr":"replace(datum.label,'.',',')"}},"y2":{"datum":2.137}}},
{"data":{"values":[{"i":-0.9,"j":20.9,"p":3.632,"q":3.319}]},"mark":{"type":"rect","fill":"#e3ecf2","stroke":"#a8b7c1","strokeWidth":1},"encoding":{"y":{"field":"p","type":"quantitative"},"y2":{"field":"q"},"x2":{"field":"j"}}},
{"data":{"values":[{"i":-0.1,"j":1.66,"p":3.572,"q":3.399}]},"mark":{"type":"rect","fill":"#e82828"},"encoding":{"y":{"field":"p","type":"quantitative"},"y2":{"field":"q"},"x2":{"field":"j"}}},
{"data":{"values":[{"i":2.3,"p":3.465,"t":"ATR Porcentaje"}]},"mark":{"type":"text","align":"left","baseline":"middle","fontSize":10.5,"color":"#222222"},"encoding":{"y":{"field":"p","type":"quantitative"},"text":{"field":"t"}}},
{"data":{"values":[{"i":19.2,"p":3.465,"t":"✚"}]},"mark":{"type":"text","align":"center","baseline":"middle","fontSize":10,"color":"#4d87ad","font":"DejaVu Sans"},"encoding":{"y":{"field":"p","type":"quantitative"},"text":{"field":"t"}}},
{"data":{"values":[{"i":320.3,"j":326.5,"p":2.579,"q":2.383}]},"mark":{"type":"rect","fill":"#f5f5f5","stroke":"#a8b0b6","strokeWidth":1},"encoding":{"y":{"field":"p","type":"quantitative"},"y2":{"field":"q"},"x2":{"field":"j"}}},
{"data":{"values":[{"i":323.4,"p":2.48,"t":"2,4811"}]},"mark":{"type":"text","align":"center","baseline":"middle","fontSize":10.5,"color":"#e83030"},"encoding":{"y":{"field":"p","type":"quantitative"},"text":{"field":"t"}}},
{"data":{"values":[{"i":327.7}]},"mark":{"type":"rule","color":"#a9b6be","strokeWidth":1},"encoding":{}}
]},
{"width":1732,"height":79,
"encoding":{"x":{"field":"i","type":"quantitative","scale":{"domain":[-0.925,319.4],"nice":false,"zero":false},"axis":null}},
"layer":[
{"data":{"name":"candles"},"mark":{"type":"bar","orient":"vertical","size":3.2,"strokeWidth":1},"encoding":{"y":{"field":"m","type":"quantitative","scale":{"domain":[-17.5,17.1],"nice":false,"zero":false},"axis":{"orient":"right","values":[-10,10]}},"y2":{"datum":0},"fill":{"condition":{"test":"datum.m>=0","value":"#33cc33"},"value":"#e05a5a"},"stroke":{"condition":{"test":"datum.m>=0","value":"#118811"},"value":"#a82020"}}},
{"data":{"values":[{"g":"z","i":-0.925,"p":0},{"g":"z","i":319.4,"p":0}]},"mark":{"type":"line","color":"#7c7ce8","strokeWidth":2},"encoding":{"detail":{"field":"g"},"y":{"field":"p","type":"quantitative"}}},
{"data":{"name":"signal"},"transform":[{"calculate":"datum[0]","as":"i"},{"calculate":"datum[1]","as":"p"}],"mark":{"type":"line","color":"#f08a8a","strokeWidth":1.5},"encoding":{"y":{"field":"p","type":"quantitative"}}},
{"data":{"name":"macd"},"transform":[{"calculate":"datum[0]","as":"i"},{"calculate":"datum[1]","as":"p"}],"mark":{"type":"line","color":"#4a4af0","strokeWidth":1.4},"encoding":{"y":{"field":"p","type":"quantitative"}}},
{"data":{"values":[{"g":"t","i":193.6,"p":-17.5},{"g":"t","i":260,"p":-2.2}]},"mark":{"type":"line","color":"#2a2af0","strokeWidth":2},"encoding":{"detail":{"field":"g"},"y":{"field":"p","type":"quantitative"}}},
{"data":{"values":[{"i":-0.9,"j":21.3,"p":16.5,"q":9.2}]},"mark":{"type":"rect","fill":"#e3ecf2","stroke":"#a8b7c1","strokeWidth":1},"encoding":{"y":{"field":"p","type":"quantitative"},"y2":{"field":"q"},"x2":{"field":"j"}}},
{"data":{"values":[{"i":-0.1,"j":0.45,"p":15,"q":10.7,"k":"g"},{"i":0.45,"j":1,"p":15,"q":10.7,"k":"r"},{"i":1,"j":1.55,"p":15,"q":10.7,"k":"b"}]},"mark":{"type":"rect"},"encoding":{"y":{"field":"p","type":"quantitative"},"y2":{"field":"q"},"x2":{"field":"j"},"fill":{"field":"k","legend":null,"scale":{"domain":["g","r","b"],"range":["#44bb44","#e86060","#3a3ae0"]}}}},
{"data":{"values":[{"i":2.1,"p":12.7,"t":"MACD (12 26 9)"}]},"mark":{"type":"text","align":"left","baseline":"middle","fontSize":10.5,"color":"#222222"},"encoding":{"y":{"field":"p","type":"quantitative"},"text":{"field":"t"}}},
{"data":{"values":[{"i":19.6,"p":12.7,"t":"✚"}]},"mark":{"type":"text","align":"center","baseline":"middle","fontSize":10,"color":"#4d87ad","font":"DejaVu Sans"},"encoding":{"y":{"field":"p","type":"quantitative"},"text":{"field":"t"}}},
{"data":{"values":[{"i":320.3,"j":326.5,"p":7.46,"q":1.3},{"i":320.3,"j":327,"p":3.07,"q":-3.5},{"i":320.3,"j":327,"p":-2.2,"q":-8.3}]},"mark":{"type":"rect","fill":"#f5f5f5","stroke":"#a8b0b6","strokeWidth":1},"encoding":{"y":{"field":"p","type":"quantitative"},"y2":{"field":"q"},"x2":{"field":"j"}}},
{"data":{"values":[{"i":323.4,"p":4.4,"t":"3,2170","k":"g"},{"i":323.7,"p":-0.75,"t":"-0,2922","k":"b"},{"i":323.7,"p":-5.6,"t":"-3,5092","k":"r"}]},"mark":{"type":"text","align":"center","baseline":"middle","fontSize":10.5},"encoding":{"y":{"field":"p","type":"quantitative"},"text":{"field":"t"},"color":{"field":"k","legend":null,"scale":{"domain":["g","b","r"],"range":["#44d044","#4a4aff","#f06060"]}}}},
{"data":{"values":[{"i":327.7}]},"mark":{"type":"rule","color":"#a9b6be","strokeWidth":1},"encoding":{}}
]},
{"width":1732,"height":58,
"encoding":{"x":{"field":"i","type":"quantitative","scale":{"domain":[-0.925,319.4],"nice":false,"zero":false},"axis":null}},
"layer":[
{"data":{"name":"candles"},"transform":[{"window":[{"op":"lag","field":"c","as":"pc"}],"sort":[{"field":"i"}]}],"mark":{"type":"bar","orient":"vertical","size":3.2,"strokeWidth":1},"encoding":{"y":{"field":"v","type":"quantitative","scale":{"domain":[0,1450],"nice":false,"zero":false},"axis":{"orient":"right","values":[500,1000],"labelExpr":"datum.value==1000?'1.000k':'500.000'"}},"y2":{"datum":0},"fill":{"condition":{"test":"datum.pc==null||datum.c>=datum.pc","value":"#33cc33"},"value":"#ee6a6a"},"stroke":{"condition":{"test":"datum.pc==null||datum.c>=datum.pc","value":"#118811"},"value":"#a82020"}}},
{"data":{"values":[{"i":-0.9,"j":16,"p":1435,"q":1010}]},"mark":{"type":"rect","fill":"#e3ecf2","stroke":"#a8b7c1","strokeWidth":1},"encoding":{"y":{"field":"p","type":"quantitative"},"y2":{"field":"q"},"x2":{"field":"j"}}},
{"data":{"values":[{"i":0,"j":0.83,"p":1342,"q":1092,"k":"g"},{"i":0.83,"j":1.66,"p":1342,"q":1092,"k":"r"}]},"mark":{"type":"rect"},"encoding":{"y":{"field":"p","type":"quantitative"},"y2":{"field":"q"},"x2":{"field":"j"},"fill":{"field":"k","legend":null,"scale":{"domain":["g","r"],"range":["#66cc66","#f07070"]}}}},
{"data":{"values":[{"i":2.2,"p":1217,"t":"Volumen"}]},"mark":{"type":"text","align":"left","baseline":"middle","fontSize":10.5,"color":"#222222"},"encoding":{"y":{"field":"p","type":"quantitative"},"text":{"field":"t"}}},
{"data":{"values":[{"i":13.6,"p":1217,"t":"✚"}]},"mark":{"type":"text","align":"center","baseline":"middle","fontSize":10,"color":"#4d87ad","font":"DejaVu Sans"},"encoding":{"y":{"field":"p","type":"quantitative"},"text":{"field":"t"}}},
{"data":{"values":[{"i":320.3,"j":327.4,"p":350,"q":15}]},"mark":{"type":"rect","fill":"#f5f5f5","stroke":"#a8b0b6","strokeWidth":1},"encoding":{"y":{"field":"p","type":"quantitative"},"y2":{"field":"q"},"x2":{"field":"j"}}},
{"data":{"values":[{"i":323.8,"p":175,"t":"108.272"}]},"mark":{"type":"text","align":"center","baseline":"middle","fontSize":10.5,"color":"#44d044"},"encoding":{"y":{"field":"p","type":"quantitative"},"text":{"field":"t"}}},
{"data":{"values":[{"i":327.7}]},"mark":{"type":"rule","color":"#a9b6be","strokeWidth":1},"encoding":{}}
]},
{"width":1732,"height":21,"view":{"stroke":null},
"encoding":{"x":{"field":"i","type":"quantitative","scale":{"domain":[-0.925,319.4],"nice":false,"zero":false},"axis":null}},
"layer":[
{"data":{"name":"dates"},"mark":{"type":"rule","color":"#a9b6be","strokeWidth":1},"encoding":{"y":{"datum":0,"type":"quantitative","scale":{"domain":[21,0],"nice":false,"zero":false},"axis":null},"y2":{"datum":3}}},
{"data":{"name":"dates"},"transform":[{"filter":"datum.b!=1"}],"mark":{"type":"text","align":"center","baseline":"middle","fontSize":11,"color":"#a0a0a0"},"encoding":{"y":{"datum":11,"type":"quantitative"},"text":{"field":"t"}}},
{"data":{"name":"dates"},"transform":[{"filter":"datum.b==1"}],"mark":{"type":"text","align":"center","baseline":"middle","fontSize":11.5,"fontWeight":"bold","color":"#8c8c8c"},"encoding":{"y":{"datum":11,"type":"quantitative"},"text":{"field":"t"}}},
{"data":{"values":[{"i":-0.925,"j":327.7,"p":20}]},"mark":{"type":"rule","color":"#a9b6be","strokeWidth":1},"encoding":{"y":{"field":"p","type":"quantitative"},"x2":{"field":"j"}}},
{"data":{"values":[{"i":327.7}]},"mark":{"type":"rule","color":"#a9b6be","strokeWidth":1},"encoding":{}},
{"data":{"values":[{"i":319.4}]},"mark":{"type":"rule","color":"#a9b6be","strokeWidth":1},"encoding":{"y":{"datum":0,"type":"quantitative"},"y2":{"datum":3}}}
]}
]}
